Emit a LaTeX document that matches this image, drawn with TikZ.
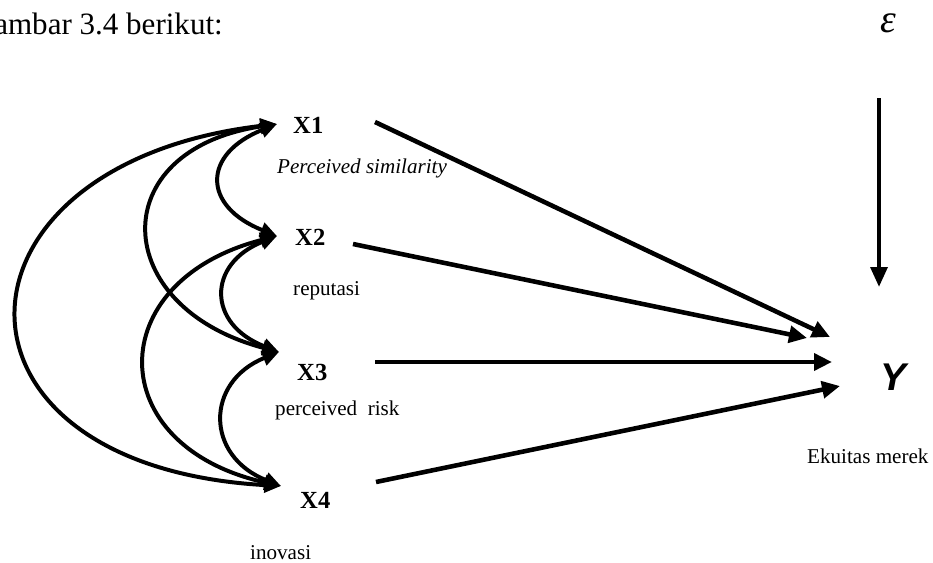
\documentclass[tikz,border=0pt]{standalone}
\usepackage{fontspec}
\setmainfont{Liberation Serif}
\newfontfamily\ArialFont{Liberation Sans}
\usetikzlibrary{arrows.meta}
\definecolor{Ink}{HTML}{000000}
\tikzset{
  head text/.style={anchor=base east,text=Ink,inner sep=0pt,font=\fontsize{26.5}{26.5}\selectfont},
  var label/.style={anchor=base west,text=Ink,inner sep=0pt,font=\bfseries\fontsize{21}{21}\selectfont},
  var name/.style={anchor=base west,text=Ink,inner sep=0pt,font=\fontsize{18}{18}\selectfont},
  cov arrow/.style={draw=Ink,line width=3.4pt,{Triangle[length=5mm,width=4.4mm]}-{Triangle[length=5mm,width=4.4mm]}},
  path arrow/.style={draw=Ink,line width=3.9pt,-{Triangle[length=5.4mm,width=5mm]}},
  error arrow/.style={draw=Ink,line width=3.6pt,-{Triangle[length=6mm,width=5mm]}}
}

\begin{document}
\begin{tikzpicture}[x=0.03cm,y=-0.03cm]
  \useasboundingbox (0,0) rectangle (933,562);

  \node[head text] (head) at (223,35) {ambar 3.4 berikut:};

  % exogenous variables
  \node[var label] (X1) at (293,133) {X1};
  \node[var label] (X2) at (295,245) {X2};
  \node[var label] (X3) at (297,380) {X3};
  \node[var label] (X4) at (300,508) {X4};
  \node[var name, font=\itshape\fontsize{18}{18}\selectfont] (n1) at (277,173) {Perceived similarity};
  \node[var name] (n2) at (293,295) {reputasi};
  \node[var name] (n3) at (275,415) {perceived\ \ risk};
  \node[var name] (n4) at (250,559) {inovasi};

  % endogenous variable and error
  \node[anchor=base west,inner sep=0pt,text=Ink,font=\ArialFont\bfseries\itshape\fontsize{33}{33}\selectfont] (Y) at (880,390) {Y};
  \node[var name] (nY) at (807,463) {Ekuitas merek};
  \node[anchor=base west,inner sep=0pt,text=Ink,font=\itshape\fontsize{34}{34}\selectfont] (eps) at (880,33) {ε};

  \coordinate (a1) at ([shift={(-16,-9)}]X1.base west);
  \coordinate (a2) at ([shift={(-18,-9)}]X2.base west);
  \coordinate (a3) at ([shift={(-18,-28)}]X3.base west);
  \coordinate (a4) at ([shift={(-19,-22)}]X4.base west);

  % correlations
  \draw[cov arrow] (a1) .. controls +(-340,40) and +(-355,-20) .. (a4);
  \draw[cov arrow] (a1) .. controls +(-174,26) and +(-170,-45) .. (a3);
  \draw[cov arrow] (a2) .. controls +(-175,45) and +(-180,-40) .. (a4);
  \draw[cov arrow] (a1) .. controls +(-75,30) and +(-75,-30) .. (a2);
  \draw[cov arrow] (a2) .. controls +(-70,28) and +(-72,-28) .. (a3);
  \draw[cov arrow] (a3) .. controls +(-74,30) and +(-76,-30) .. (a4);

  % paths to Y
  \draw[path arrow] ([shift={(82,-11)}]X1.base west) -- ([shift={(-50,-53)}]Y.base west);
  \draw[path arrow] ([shift={(58,-1)}]X2.base west) -- ([shift={(-73,-52)}]Y.base west);
  \draw[path arrow] ([shift={(78,-18)}]X3.base west) -- ([shift={(-48,-28)}]Y.base west);
  \draw[path arrow] ([shift={(76,-26)}]X4.base west) -- ([shift={(-40,-4)}]Y.base west);
  \draw[error arrow] ([shift={(-1,65)}]eps.base west) -- ([shift={(-1,-103)}]Y.base west);
\end{tikzpicture}
\end{document}
